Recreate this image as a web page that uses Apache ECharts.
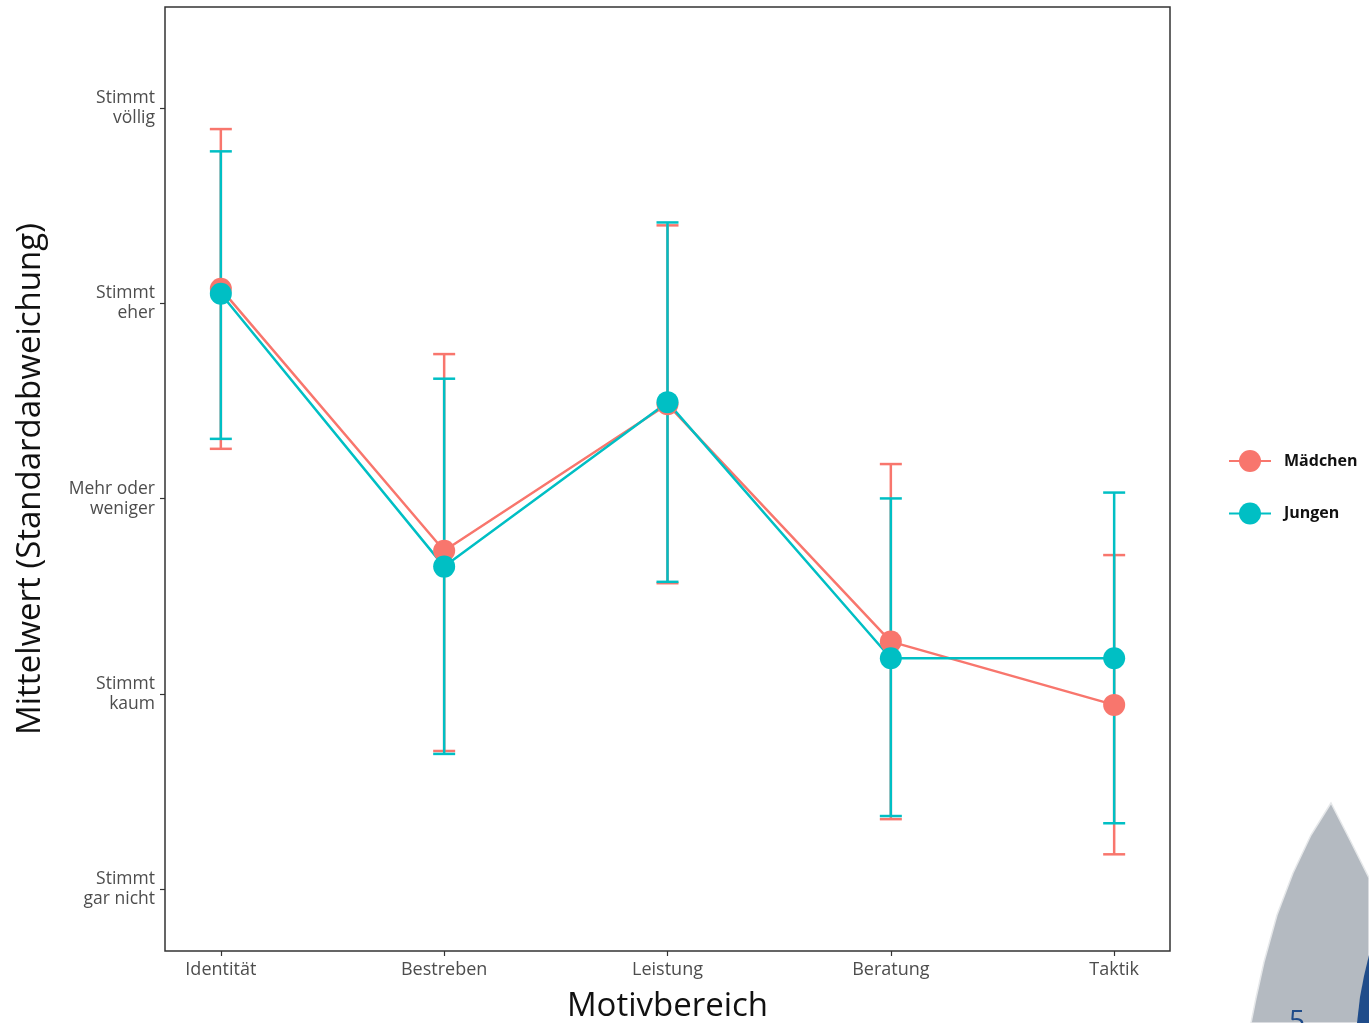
<!DOCTYPE html>
<html>
  <head>
    <meta charset="utf-8" />
    <title>Motivbereich</title>
    <style>
      html,
      body {
        height: 100%;
        margin: 0;
        padding: 0;
        background: #fff;
      }
      #chart-container {
        width: 1369px;
        height: 1023px;
      }
    </style>
    <script src="https://cdn.jsdelivr.net/npm/echarts@6/dist/echarts.min.js"></script>
  </head>
  <body>
    <div id="chart-container"></div>

    <script>
      // Kategorien (x-Achse) und Positionen 1..5
      const categories = ["Identität", "Bestreben", "Leistung", "Beratung", "Taktik"];
      const xPos = [1, 2, 3, 4, 5];

      // Skala der y-Achse (1 = gar nicht ... 5 = völlig)
      const yTickValues = [1, 2, 3, 4, 5];
      const yTickLabels = [
        "Stimmt\ngar nicht",
        "Stimmt\nkaum",
        "Mehr oder\nweniger",
        "Stimmt\neher",
        "Stimmt\nvöllig",
      ];

      // Mädchen: Mittelwert, untere / obere Grenze (MW ± SD)
      const maedchenMean = [4.074, 2.733, 3.483, 2.268, 1.944];
      const maedchenLow = [3.255, 1.708, 2.567, 1.359, 1.179];
      const maedchenHigh = [4.892, 3.740, 4.399, 3.177, 2.711];

      // Jungen
      const jungenMean = [4.049, 2.652, 3.494, 2.183, 2.183];
      const jungenLow = [3.306, 1.693, 2.574, 1.375, 1.338];
      const jungenHigh = [4.778, 3.614, 4.414, 3.001, 3.031];

      const colorM = "#F8766D";
      const colorJ = "#00BFC4";

      function pairs(xs, ys) {
        return xs.map((x, i) => [x, ys[i]]);
      }
      function bars(xs, lo, hi) {
        return xs.map((x, i) => [x, lo[i], hi[i]]);
      }

      // Fehlerbalken mit Querstrichen
      function renderErrorBar(params, api) {
        const x = api.value(0);
        const pLo = api.coord([x, api.value(1)]);
        const pHi = api.coord([x, api.value(2)]);
        const half = 11;
        const style = { stroke: api.visual("color"), lineWidth: 2.5 };
        return {
          type: "group",
          children: [
            { type: "line", shape: { x1: pHi[0], y1: pHi[1], x2: pLo[0], y2: pLo[1] }, style: style },
            { type: "line", shape: { x1: pHi[0] - half, y1: pHi[1], x2: pHi[0] + half, y2: pHi[1] }, style: style },
            { type: "line", shape: { x1: pLo[0] - half, y1: pLo[1], x2: pLo[0] + half, y2: pLo[1] }, style: style },
          ],
        };
      }

      const myChart = echarts.init(document.getElementById("chart-container"), null, {
        renderer: "canvas",
      });

      const font = "'Open Sans', 'DejaVu Sans', sans-serif";

      const option = {
        animation: false,
        textStyle: { fontFamily: font },
        grid: {
          left: 165,
          right: 199,
          top: 7,
          bottom: 72,
          containLabel: false,
          outerBoundsMode: "none",
          show: true,
          borderColor: "#333",
          borderWidth: 1.5,
          backgroundColor: "#fff",
        },
        xAxis: {
          type: "value",
          min: 0.75,
          max: 5.25,
          name: "Motivbereich",
          nameLocation: "middle",
          nameGap: 39,
          nameTextStyle: { fontSize: 33, color: "#111", fontFamily: font },
          splitLine: { show: false },
          axisLine: { show: false },
          axisTick: {
            show: true,
            length: 5,
            customValues: xPos,
            lineStyle: { color: "#333", width: 1.2 },
          },
          axisLabel: {
            customValues: xPos,
            margin: 10,
            fontSize: 18,
            color: "#4d4d4d",
            formatter: (v) => categories[Math.round(v) - 1] || "",
          },
        },
        yAxis: {
          type: "value",
          min: 0.684,
          max: 5.517,
          name: "Mittelwert (Standardabweichung)",
          nameLocation: "middle",
          nameGap: 118,
          nameRotate: 90,
          nameTextStyle: { fontSize: 33, color: "#111", fontFamily: font },
          splitLine: { show: false },
          axisLine: { show: false },
          axisTick: {
            show: true,
            length: 5,
            customValues: yTickValues,
            lineStyle: { color: "#333", width: 1.2 },
          },
          axisLabel: {
            customValues: yTickValues,
            margin: 10,
            fontSize: 17.5,
            lineHeight: 20,
            color: "#4d4d4d",
            align: "right",
            formatter: (v) => yTickLabels[yTickValues.indexOf(Math.round(v))] || "",
          },
        },
        legend: {
          orient: "vertical",
          left: 1228,
          top: 450,
          padding: 0,
          itemWidth: 42,
          itemHeight: 27.5,
          itemGap: 30.5,
          data: ["Mädchen", "Jungen"],
          textStyle: {
            fontSize: 16,
            fontWeight: "bold",
            color: "#111",
            padding: [0, 0, 0, 8],
          },
        },
        series: [
          {
            name: "Mädchen SD",
            type: "custom",
            z: 1,
            itemStyle: { color: colorM },
            renderItem: renderErrorBar,
            encode: { x: 0, y: [1, 2] },
            data: bars(xPos, maedchenLow, maedchenHigh),
            silent: true,
          },
          {
            name: "Jungen SD",
            type: "custom",
            z: 1,
            itemStyle: { color: colorJ },
            renderItem: renderErrorBar,
            encode: { x: 0, y: [1, 2] },
            data: bars(xPos, jungenLow, jungenHigh),
            silent: true,
          },
          {
            name: "Mädchen",
            type: "line",
            z: 2,
            symbol: "circle",
            symbolSize: 22,
            color: colorM,
            itemStyle: { color: colorM },
            lineStyle: { color: colorM, width: 2.5 },
            emphasis: { disabled: true },
            data: pairs(xPos, maedchenMean),
          },
          {
            name: "Jungen",
            type: "line",
            z: 2,
            symbol: "circle",
            symbolSize: 22,
            color: colorJ,
            itemStyle: { color: colorJ },
            lineStyle: { color: colorJ, width: 2.5 },
            emphasis: { disabled: true },
            data: pairs(xPos, jungenMean),
          },
        ],
        // Folien-Dekoration unten rechts
        graphic: [
          {
            type: "polygon",
            z: 10,
            shape: {
              points: [
                [1331, 803], [1311, 835], [1293, 873], [1277, 915], [1264, 962],
                [1256, 998], [1251, 1023], [1369, 1023], [1369, 878], [1350, 840],
              ],
            },
            style: { fill: "#b4bac1", stroke: "#e6e8ea", lineWidth: 1.5 },
          },
          {
            type: "polygon",
            z: 11,
            shape: {
              points: [[1369, 955], [1364, 976], [1360, 997], [1357, 1023], [1369, 1023]],
            },
            style: { fill: "#1f4c8a" },
          },
          {
            type: "text",
            z: 11,
            left: 1289,
            top: 1008,
            style: { text: "5", fontSize: 28, fill: "#1f4c8a", fontFamily: font },
          },
        ],
      };

      myChart.setOption(option);
    </script>
  </body>
</html>
